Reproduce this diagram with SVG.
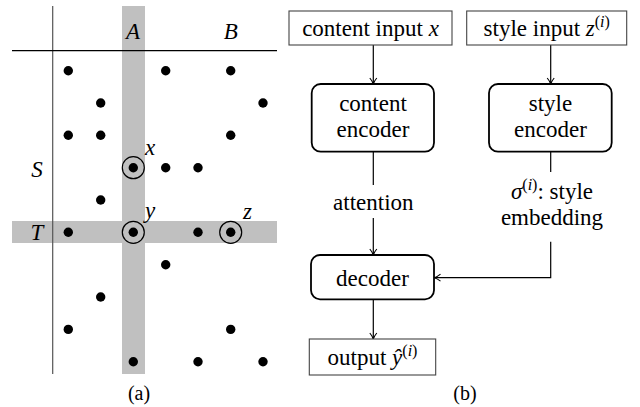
<svg xmlns="http://www.w3.org/2000/svg" width="640" height="407" viewBox="0 0 640 407" font-family="Liberation Serif, serif">
<style>
text{font-family:'Liberation Serif',serif;font-size:23px;fill:#000}
.it{font-style:italic}
.sup{font-size:16px}
.cap{font-size:20px}
.dot{fill:#000}
.ring{fill:none;stroke:#000;stroke-width:1.2}
.band{fill:#c0c0c0}
.box{fill:#fff;stroke:#444;stroke-width:1.1}
.rbox{fill:#fff;stroke:#000;stroke-width:1.8}
.conn{fill:none;stroke:#000;stroke-width:1.2}
</style>
<defs>
<marker id="arr" markerWidth="10" markerHeight="10" refX="8" refY="5" orient="auto" markerUnits="userSpaceOnUse">
<path d="M2,1.5 Q5,4 8,5 Q5,6 2,8.5" fill="none" stroke="#000" stroke-width="1.1"/>
</marker>
</defs>
<g id="panel-a">
<rect class="band" x="122" y="6" width="23" height="368"/>
<rect class="band" x="12" y="221" width="265" height="22"/>
<line x1="52.7" y1="6" x2="52.7" y2="374" stroke="#555" stroke-width="1.2"/>
<line x1="12" y1="50.7" x2="277" y2="50.7" stroke="#000" stroke-width="1.2"/>
<text class="it" x="133" y="39" text-anchor="middle">A</text>
<text class="it" x="230.7" y="39" text-anchor="middle">B</text>
<text class="it" x="37" y="177" text-anchor="middle">S</text>
<text class="it" x="37" y="240" text-anchor="middle">T</text>
<text class="it" x="145" y="155">x</text>
<text class="it" x="145" y="218">y</text>
<text class="it" x="243" y="219">z</text>
<g id="dots">
<circle class="dot" cx="68.3" cy="70.7" r="4.7"/>
<circle class="dot" cx="165.7" cy="70.7" r="4.7"/>
<circle class="dot" cx="230.7" cy="70.7" r="4.7"/>
<circle class="dot" cx="100.7" cy="103" r="4.7"/>
<circle class="dot" cx="263" cy="103" r="4.7"/>
<circle class="dot" cx="68.3" cy="135.3" r="4.7"/>
<circle class="dot" cx="100.7" cy="135.3" r="4.7"/>
<circle class="dot" cx="230.7" cy="135.3" r="4.7"/>
<circle class="dot" cx="133.3" cy="167.7" r="4.7"/>
<circle class="ring" cx="133.3" cy="167.7" r="11"/>
<circle class="dot" cx="165.7" cy="167.7" r="4.7"/>
<circle class="dot" cx="198" cy="167.7" r="4.7"/>
<circle class="dot" cx="100.7" cy="200" r="4.7"/>
<circle class="dot" cx="68.3" cy="232.3" r="4.7"/>
<circle class="dot" cx="133.3" cy="232.3" r="4.7"/>
<circle class="ring" cx="133.3" cy="232.3" r="11"/>
<circle class="dot" cx="198" cy="232.3" r="4.7"/>
<circle class="dot" cx="230.7" cy="232.3" r="4.7"/>
<circle class="ring" cx="230.7" cy="232.3" r="11"/>
<circle class="dot" cx="165.7" cy="264.7" r="4.7"/>
<circle class="dot" cx="100.7" cy="297" r="4.7"/>
<circle class="dot" cx="68.3" cy="329.4" r="4.7"/>
<circle class="dot" cx="230.7" cy="329.4" r="4.7"/>
<circle class="dot" cx="133.3" cy="361.7" r="4.7"/>
<circle class="dot" cx="198" cy="361.7" r="4.7"/>
<circle class="dot" cx="263" cy="361.7" r="4.7"/>
</g>
<text class="cap" x="139" y="400" text-anchor="middle">(a)</text>
</g>
<g id="connectors">
<line class="conn" x1="373.3" y1="45" x2="373.3" y2="84" marker-end="url(#arr)"/>
<line class="conn" x1="550.7" y1="45" x2="550.7" y2="84" marker-end="url(#arr)"/>
<line class="conn" x1="373.3" y1="152" x2="373.3" y2="185"/>
<line class="conn" x1="373.3" y1="218" x2="373.3" y2="255" marker-end="url(#arr)"/>
<line class="conn" x1="550.7" y1="152" x2="550.7" y2="172"/>
<polyline class="conn" points="550.7,241.7 550.7,277.7 434.5,277.7" marker-end="url(#arr)"/>
<line class="conn" x1="373.3" y1="299.5" x2="373.3" y2="339" marker-end="url(#arr)"/>
<text x="373.3" y="210" text-anchor="middle">attention</text>
<text x="552" y="199" text-anchor="middle"><tspan class="it">σ</tspan><tspan class="sup" dy="-9">(<tspan class="it">i</tspan>)</tspan><tspan dy="9">: style</tspan></text>
<text x="552" y="225" text-anchor="middle">embedding</text>
</g>
<g id="content-input">
<rect class="box" x="289" y="11" width="163" height="34"/>
<text x="370.5" y="36" text-anchor="middle">content input <tspan class="it">x</tspan></text>
</g>
<g id="style-input">
<rect class="box" x="466.7" y="11" width="160" height="34"/>
<text x="546.7" y="36" text-anchor="middle">style input <tspan class="it">z</tspan><tspan class="sup" dy="-9">(<tspan class="it">i</tspan>)</tspan></text>
</g>
<g id="content-encoder">
<rect class="rbox" x="311.7" y="84" width="122.3" height="67.7" rx="9"/>
<text x="373" y="111" text-anchor="middle">content</text>
<text x="373" y="137" text-anchor="middle">encoder</text>
</g>
<g id="style-encoder">
<rect class="rbox" x="489" y="84" width="122.7" height="67.7" rx="9"/>
<text x="550.5" y="111" text-anchor="middle">style</text>
<text x="550.5" y="137" text-anchor="middle">encoder</text>
</g>
<g id="decoder">
<rect class="rbox" x="311" y="255" width="123" height="44.3" rx="9"/>
<text x="372.5" y="286" text-anchor="middle">decoder</text>
</g>
<g id="output">
<rect class="box" x="309.3" y="339" width="126.4" height="36"/>
<text x="372.5" y="365" text-anchor="middle">output <tspan class="it">ŷ</tspan><tspan class="sup" dy="-9">(<tspan class="it">i</tspan>)</tspan></text>
</g>
<text class="cap" x="465" y="400" text-anchor="middle">(b)</text>
</svg>
